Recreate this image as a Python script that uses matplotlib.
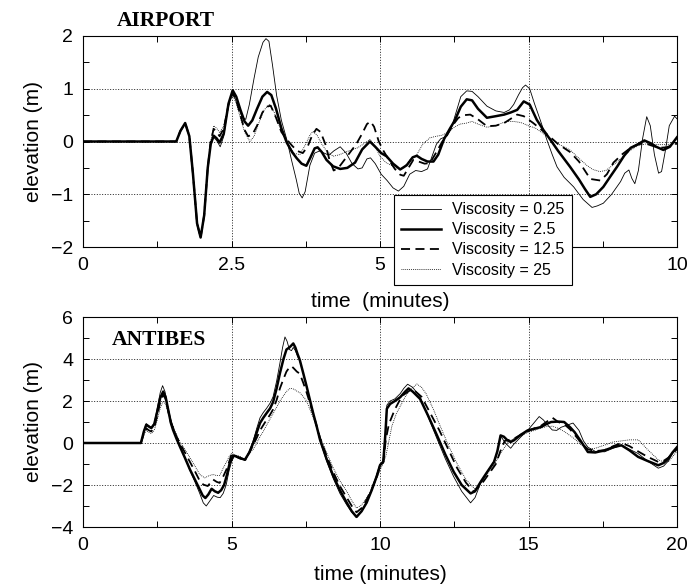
import matplotlib
matplotlib.use("Agg")
import matplotlib.pyplot as plt
from matplotlib.ticker import MultipleLocator

# ---------------- AIRPORT (top) ----------------
t_air_common = [0.0, 1.57, 1.64, 1.72, 1.79, 1.85, 1.92, 1.98, 2.04, 2.10]
y_air_common = [0.0, 0.0, 0.20, 0.35, 0.10, -0.60, -1.55, -1.82, -1.40, -0.50]

t_air_v025 = [2.15, 2.20, 2.25, 2.31, 2.37, 2.45, 2.52, 2.60, 2.68, 2.74, 2.80, 2.88, 2.95, 3.03, 3.08, 3.13,
              3.19, 3.26, 3.34, 3.43, 3.51, 3.59, 3.64, 3.69, 3.74, 3.82, 3.90, 3.98, 4.06, 4.14, 4.22, 4.33,
              4.43, 4.53, 4.63, 4.70, 4.78, 4.84, 4.92, 5.02, 5.12, 5.22, 5.31, 5.40, 5.50, 5.60, 5.70, 5.80,
              5.87, 5.95, 6.02, 6.12, 6.20, 6.28, 6.36, 6.46, 6.55, 6.65, 6.80, 6.95, 7.09, 7.18, 7.25, 7.33,
              7.40, 7.45, 7.52, 7.60, 7.70, 7.81, 7.90, 7.98, 8.10, 8.26, 8.42, 8.57, 8.66, 8.76, 8.90, 9.05,
              9.12, 9.19, 9.24, 9.29, 9.35, 9.42, 9.49, 9.55, 9.62, 9.69, 9.74, 9.80, 9.87, 9.96, 10.0]
y_air_v025 = [-0.05, 0.08, 0.02, -0.10, 0.10, 0.70, 0.93, 0.70, 0.45, 0.42, 0.70, 1.20, 1.60, 1.88, 1.95, 1.90,
              1.45, 0.87, 0.40, 0.04, -0.35, -0.72, -0.98, -1.07, -0.95, -0.45, -0.22, -0.18, -0.22, -0.26, -0.18, -0.10,
              -0.22, -0.42, -0.52, -0.50, -0.33, -0.31, -0.42, -0.62, -0.74, -0.88, -0.94, -0.85, -0.62, -0.55, -0.57, -0.52,
              -0.30, -0.05, 0.05, 0.10, 0.25, 0.55, 0.85, 0.96, 0.95, 0.85, 0.67, 0.58, 0.55, 0.60, 0.70, 0.88,
              1.02, 1.07, 1.00, 0.72, 0.40, 0.03, -0.25, -0.48, -0.68, -0.86, -1.10, -1.25, -1.22, -1.17, -1.00, -0.76,
              -0.60, -0.54, -0.70, -0.80, -0.55, 0.05, 0.47, 0.30, -0.25, -0.60, -0.57, -0.20, 0.30, 0.48, 0.43]

t_air_v25 = [2.15, 2.20, 2.25, 2.30, 2.37, 2.45, 2.52, 2.58, 2.65, 2.72, 2.78, 2.85, 2.93, 3.02, 3.10, 3.17,
             3.25, 3.34, 3.43, 3.52, 3.60, 3.68, 3.76, 3.83, 3.90, 3.95, 4.02, 4.10, 4.21, 4.33, 4.45, 4.58,
             4.70, 4.83, 4.92, 5.02, 5.11, 5.22, 5.34, 5.45, 5.55, 5.62, 5.70, 5.80, 5.90, 5.98, 6.08, 6.18,
             6.26, 6.36, 6.46, 6.55, 6.65, 6.80, 6.95, 7.09, 7.20, 7.31, 7.42, 7.52, 7.64, 7.75, 7.87, 8.00,
             8.20, 8.35, 8.45, 8.54, 8.64, 8.76, 8.88, 8.99, 9.11, 9.22, 9.33, 9.45, 9.55, 9.65, 9.77, 9.88, 10.0]
y_air_v25 = [-0.05, 0.11, 0.06, -0.02, 0.15, 0.72, 0.97, 0.85, 0.60, 0.38, 0.30, 0.40, 0.62, 0.85, 0.94, 0.88,
             0.62, 0.25, -0.02, -0.20, -0.32, -0.42, -0.46, -0.30, -0.13, -0.11, -0.20, -0.35, -0.47, -0.52, -0.50, -0.40,
             -0.15, 0.00, -0.10, -0.22, -0.28, -0.42, -0.53, -0.45, -0.30, -0.27, -0.33, -0.38, -0.38, -0.25, 0.05, 0.25,
             0.40, 0.66, 0.80, 0.78, 0.62, 0.45, 0.48, 0.51, 0.55, 0.60, 0.76, 0.70, 0.41, 0.22, 0.03, -0.18,
             -0.48, -0.72, -0.90, -1.05, -1.00, -0.86, -0.66, -0.48, -0.27, -0.12, -0.06, 0.02, -0.03, -0.10, -0.16, -0.10, 0.08]

t_air_v125 = [2.15, 2.20, 2.25, 2.30, 2.37, 2.45, 2.52, 2.58, 2.65, 2.72, 2.78, 2.85, 2.93, 3.02, 3.10, 3.16,
              3.25, 3.34, 3.43, 3.52, 3.61, 3.70, 3.78, 3.86, 3.93, 4.00, 4.08, 4.15, 4.22, 4.30, 4.40, 4.50,
              4.60, 4.70, 4.78, 4.84, 4.90, 4.98, 5.06, 5.15, 5.25, 5.34, 5.40, 5.48, 5.56, 5.65, 5.75, 5.84,
              5.95, 6.05, 6.12, 6.22, 6.32, 6.42, 6.52, 6.65, 6.80, 6.95, 7.09, 7.20, 7.31, 7.42, 7.58, 7.72,
              7.87, 8.00, 8.20, 8.35, 8.54, 8.71, 8.82, 8.93, 9.08, 9.22, 9.33, 9.45, 9.58, 9.70, 9.82, 9.92, 10.0]
y_air_v125 = [0.00, 0.24, 0.18, 0.10, 0.25, 0.70, 0.92, 0.78, 0.50, 0.22, 0.10, 0.13, 0.30, 0.55, 0.66, 0.68,
              0.45, 0.18, 0.04, -0.08, -0.18, -0.22, -0.10, 0.12, 0.24, 0.18, -0.05, -0.35, -0.55, -0.50, -0.35, -0.20,
              -0.05, 0.15, 0.33, 0.38, 0.28, 0.00, -0.18, -0.35, -0.52, -0.63, -0.65, -0.50, -0.35, -0.38, -0.42, -0.41,
              -0.20, 0.00, 0.10, 0.30, 0.45, 0.50, 0.51, 0.42, 0.29, 0.30, 0.35, 0.43, 0.51, 0.48, 0.35, 0.22,
              0.08, -0.05, -0.20, -0.38, -0.71, -0.74, -0.62, -0.40, -0.24, -0.12, -0.06, -0.03, -0.08, -0.12, -0.11, -0.07, -0.04]

t_air_v250 = [2.15, 2.20, 2.25, 2.30, 2.37, 2.45, 2.52, 2.58, 2.65, 2.72, 2.81, 2.88, 2.96, 3.05, 3.14, 3.22,
              3.32, 3.43, 3.55, 3.65, 3.75, 3.82, 3.87, 3.94, 4.02, 4.10, 4.21, 4.32, 4.42, 4.52, 4.62, 4.72,
              4.83, 4.92, 5.00, 5.10, 5.22, 5.32, 5.40, 5.50, 5.62, 5.72, 5.84, 5.95, 6.05, 6.15, 6.25, 6.35,
              6.46, 6.55, 6.65, 6.80, 6.95, 7.05, 7.15, 7.25, 7.37, 7.50, 7.62, 7.75, 7.88, 8.00, 8.10, 8.21,
              8.35, 8.48, 8.58, 8.70, 8.80, 8.92, 9.05, 9.20, 9.34, 9.50, 9.67, 9.80, 9.90, 10.0]
y_air_v250 = [0.00, 0.30, 0.25, 0.17, 0.30, 0.68, 0.88, 0.72, 0.45, 0.18, 0.00, 0.10, 0.35, 0.60, 0.70, 0.55,
              0.25, 0.00, -0.22, -0.25, -0.05, 0.12, 0.19, 0.12, -0.05, -0.18, -0.28, -0.25, -0.20, -0.16, -0.12, -0.05,
              0.04, -0.10, -0.28, -0.40, -0.47, -0.52, -0.50, -0.35, -0.25, -0.05, 0.07, 0.10, 0.12, 0.18, 0.27, 0.33,
              0.35, 0.38, 0.33, 0.27, 0.30, 0.35, 0.38, 0.38, 0.36, 0.30, 0.25, 0.15, 0.05, -0.05, -0.10, -0.17,
              -0.32, -0.45, -0.53, -0.57, -0.55, -0.45, -0.33, -0.18, -0.08, -0.04, -0.06, -0.06, -0.05, -0.04]

# ---------------- ANTIBES (bottom) ----------------
t_ant_common = [0.0, 1.95]
y_ant_common = [0.0, 0.0]

t_ant_v025 = [2.05, 2.13, 2.22, 2.30, 2.40, 2.50, 2.60, 2.68, 2.76, 2.86, 2.96, 3.03, 3.15, 3.26, 3.43, 3.60,
              3.77, 3.93, 4.05, 4.15, 4.25, 4.40, 4.52, 4.62, 4.72, 4.82, 4.92, 5.00, 5.10, 5.20, 5.32, 5.48,
              5.60, 5.73, 5.85, 5.96, 6.07, 6.18, 6.30, 6.40, 6.52, 6.63, 6.72, 6.80, 6.87, 6.95, 7.02, 7.08,
              7.15, 7.22, 7.30, 7.42, 7.53, 7.64, 7.75, 7.87, 7.98, 8.20, 8.43, 8.65, 8.88, 9.05, 9.21, 9.38,
              9.55, 9.72, 9.89, 10.0, 10.11, 10.18, 10.23, 10.34, 10.50, 10.68, 10.80, 10.93, 11.10, 11.35, 11.62, 11.92,
              12.20, 12.48, 12.75, 13.05, 13.20, 13.39, 13.60, 13.84, 13.95, 14.06, 14.17, 14.29, 14.40, 14.51, 14.75, 14.97,
              15.15, 15.36, 15.50, 15.65, 15.80, 15.95, 16.10, 16.30, 16.50, 16.70, 16.85, 17.00, 17.25, 17.56, 17.85, 18.13,
              18.40, 18.69, 19.00, 19.37, 19.55, 19.71, 19.85, 20.0]
y_ant_v025 = [0.60, 0.92, 0.82, 0.75, 0.95, 1.65, 2.40, 2.73, 2.45, 1.70, 1.10, 0.80, 0.30, -0.10, -0.70, -1.30,
              -1.85, -2.40, -2.85, -3.00, -2.80, -2.50, -2.58, -2.60, -2.40, -2.00, -1.30, -0.90, -0.60, -0.68, -0.75, -0.82,
              -0.40, 0.10, 0.70, 1.20, 1.45, 1.65, 1.90, 2.20, 2.95, 3.80, 4.55, 5.05, 4.85, 4.45, 4.40, 4.55,
              4.40, 4.15, 3.90, 3.30, 2.70, 2.05, 1.40, 0.75, 0.10, -0.85, -1.70, -2.40, -2.95, -3.30, -3.55, -3.25,
              -2.80, -2.20, -1.50, -1.00, -0.85, 0.50, 1.80, 2.00, 2.10, 2.35, 2.60, 2.80, 2.65, 2.20, 1.25, 0.20,
              -0.75, -1.60, -2.30, -2.85, -2.60, -1.90, -1.40, -0.85, -0.40, 0.35, 0.10, -0.10, -0.25, -0.05, 0.30, 0.60,
              0.90, 1.26, 1.10, 0.85, 0.62, 0.60, 0.75, 0.85, 0.95, 0.60, 0.10, -0.20, -0.40, -0.42, -0.25, -0.10,
              -0.30, -0.50, -0.85, -1.20, -1.10, -0.85, -0.50, -0.20]

t_ant_v25 = [2.05, 2.13, 2.22, 2.30, 2.40, 2.50, 2.60, 2.70, 2.78, 2.88, 2.96, 3.03, 3.15, 3.26, 3.43, 3.60,
             3.77, 3.93, 4.03, 4.12, 4.22, 4.33, 4.44, 4.55, 4.65, 4.75, 4.85, 4.94, 5.06, 5.18, 5.30, 5.45,
             5.60, 5.73, 5.85, 5.96, 6.07, 6.18, 6.30, 6.40, 6.52, 6.63, 6.75, 6.85, 6.95, 7.02, 7.08, 7.15,
             7.22, 7.30, 7.42, 7.53, 7.64, 7.75, 7.87, 7.98, 8.20, 8.43, 8.65, 8.88, 9.05, 9.21, 9.38, 9.55,
             9.72, 9.89, 10.0, 10.11, 10.18, 10.23, 10.34, 10.50, 10.68, 10.85, 10.96, 11.10, 11.35, 11.62, 11.92, 12.20,
             12.48, 12.75, 13.05, 13.20, 13.39, 13.60, 13.84, 13.95, 14.06, 14.17, 14.29, 14.40, 14.51, 14.75, 14.97, 15.20,
             15.42, 15.60, 15.76, 16.00, 16.20, 16.40, 16.55, 16.78, 17.00, 17.25, 17.56, 17.85, 18.13, 18.40, 18.69, 19.00,
             19.37, 19.55, 19.71, 19.85, 20.0]
y_ant_v25 = [0.55, 0.87, 0.78, 0.71, 0.90, 1.50, 2.15, 2.45, 2.20, 1.50, 0.95, 0.63, 0.20, -0.16, -0.70, -1.26,
             -1.75, -2.21, -2.50, -2.62, -2.45, -2.18, -2.30, -2.37, -2.25, -2.00, -1.50, -0.95, -0.60, -0.65, -0.72, -0.80,
             -0.45, 0.00, 0.50, 0.95, 1.20, 1.42, 1.65, 1.95, 2.60, 3.32, 4.00, 4.45, 4.55, 4.65, 4.74, 4.55,
             4.25, 3.95, 3.30, 2.69, 2.05, 1.42, 0.78, 0.16, -0.75, -1.58, -2.25, -2.84, -3.25, -3.52, -3.25, -2.84,
             -2.25, -1.58, -1.06, -0.90, 0.40, 1.63, 1.86, 2.00, 2.18, 2.45, 2.60, 2.45, 2.10, 1.30, 0.36, -0.55,
             -1.37, -2.00, -2.40, -2.30, -1.85, -1.40, -0.90, -0.40, 0.36, 0.30, 0.13, 0.05, 0.13, 0.40, 0.60, 0.68,
             0.76, 0.90, 1.00, 1.02, 1.00, 0.75, 0.52, 0.05, -0.43, -0.45, -0.35, -0.20, -0.11, -0.35, -0.66, -0.85,
             -1.06, -0.95, -0.74, -0.45, -0.20]

t_ant_v125 = [2.05, 2.13, 2.22, 2.30, 2.40, 2.50, 2.60, 2.70, 2.78, 2.88, 2.96, 3.03, 3.15, 3.26, 3.43, 3.60,
              3.77, 3.93, 4.05, 4.20, 4.38, 4.50, 4.60, 4.72, 4.83, 4.92, 5.00, 5.15, 5.30, 5.45, 5.60, 5.73,
              5.85, 5.96, 6.07, 6.18, 6.30, 6.40, 6.52, 6.63, 6.75, 6.85, 6.95, 7.02, 7.10, 7.20, 7.30, 7.42,
              7.53, 7.64, 7.75, 7.87, 7.98, 8.20, 8.43, 8.65, 8.88, 9.05, 9.21, 9.38, 9.55, 9.72, 9.89, 10.0,
              10.11, 10.20, 10.30, 10.50, 10.65, 10.80, 11.05, 11.20, 11.40, 11.70, 12.00, 12.30, 12.60, 12.90, 13.16, 13.35,
              13.50, 13.70, 13.90, 14.05, 14.20, 14.35, 14.50, 14.75, 14.97, 15.20, 15.40, 15.60, 15.81, 16.00, 16.20, 16.40,
              16.55, 16.78, 17.00, 17.25, 17.56, 17.85, 18.13, 18.40, 18.69, 19.00, 19.37, 19.55, 19.71, 19.85, 20.0]
y_ant_v125 = [0.45, 0.70, 0.60, 0.55, 0.75, 1.30, 1.95, 2.30, 2.10, 1.45, 0.95, 0.70, 0.30, 0.00, -0.45, -0.90,
              -1.35, -1.80, -1.98, -2.05, -1.74, -1.85, -1.90, -1.60, -1.26, -0.90, -0.55, -0.65, -0.75, -0.78, -0.45, -0.10,
              0.25, 0.60, 0.85, 1.10, 1.35, 1.60, 2.05, 2.60, 3.05, 3.40, 3.60, 3.66, 3.55, 3.40, 3.30, 2.85,
              2.40, 1.90, 1.40, 0.80, 0.25, -0.60, -1.40, -2.05, -2.60, -3.00, -3.30, -3.10, -2.70, -2.20, -1.60, -1.10,
              -0.90, 0.20, 0.90, 1.60, 2.00, 2.30, 2.55, 2.45, 2.20, 1.40, 0.60, -0.30, -1.20, -1.90, -2.32, -2.05,
              -1.80, -1.40, -1.00, -0.40, 0.10, 0.15, 0.20, 0.40, 0.55, 0.70, 0.80, 1.00, 1.20, 1.00, 0.90, 0.65,
              0.40, 0.00, -0.30, -0.38, -0.35, -0.15, 0.00, -0.15, -0.40, -0.65, -0.90, -0.85, -0.70, -0.50, -0.30]

t_ant_v250 = [2.05, 2.13, 2.22, 2.30, 2.40, 2.50, 2.60, 2.70, 2.78, 2.88, 2.96, 3.03, 3.15, 3.26, 3.43, 3.60,
              3.77, 3.93, 4.10, 4.25, 4.38, 4.50, 4.60, 4.72, 4.83, 4.92, 5.00, 5.15, 5.30, 5.45, 5.60, 5.73,
              5.85, 5.96, 6.07, 6.18, 6.30, 6.40, 6.52, 6.63, 6.75, 6.85, 6.95, 7.02, 7.12, 7.22, 7.30, 7.42,
              7.53, 7.64, 7.75, 7.87, 7.98, 8.20, 8.43, 8.65, 8.88, 9.05, 9.21, 9.38, 9.55, 9.72, 9.89, 10.0,
              10.10, 10.20, 10.30, 10.40, 10.55, 10.70, 10.85, 11.00, 11.24, 11.40, 11.55, 11.80, 12.00, 12.30, 12.60, 12.90,
              13.20, 13.35, 13.50, 13.70, 13.90, 14.05, 14.20, 14.35, 14.50, 14.75, 14.97, 15.20, 15.40, 15.60, 15.80, 16.00,
              16.20, 16.40, 16.55, 16.78, 17.00, 17.25, 17.56, 17.85, 18.13, 18.40, 18.70, 19.00, 19.37, 19.55, 19.71, 19.85, 20.0]
y_ant_v250 = [0.40, 0.60, 0.50, 0.45, 0.60, 1.10, 1.65, 2.00, 1.85, 1.40, 1.00, 0.80, 0.40, 0.05, -0.30, -0.70,
              -1.10, -1.50, -1.66, -1.55, -1.50, -1.55, -1.55, -1.20, -0.90, -0.65, -0.50, -0.58, -0.65, -0.80, -0.50, -0.30,
              0.00, 0.30, 0.55, 0.85, 1.15, 1.40, 1.70, 2.00, 2.25, 2.45, 2.58, 2.60, 2.55, 2.45, 2.40, 2.20,
              2.00, 1.60, 1.20, 0.75, 0.30, -0.45, -1.20, -1.80, -2.30, -2.75, -3.10, -2.95, -2.60, -2.20, -1.70, -1.30,
              -1.00, -0.60, 0.10, 0.80, 1.40, 1.80, 2.20, 2.50, 2.81, 2.65, 2.35, 1.60, 0.90, -0.10, -1.00, -1.75,
              -2.20, -2.00, -1.70, -1.30, -0.90, -0.50, -0.20, 0.10, 0.20, 0.35, 0.50, 0.60, 0.70, 0.78, 0.80, 0.70,
              0.55, 0.35, 0.20, -0.10, -0.30, -0.25, -0.10, 0.05, 0.10, 0.15, 0.15, -0.30, -0.80, -0.90, -0.90, -0.65, -0.40]

labels = ["Viscosity = 0.25", "Viscosity = 2.5", "Viscosity = 12.5", "Viscosity = 25"]
air_xticks = [0, 2.5, 5, 7.5, 10]
air_xticklabels = ["0", "2.5", "5", "", "10"]   # 7.5 is hidden behind the legend in the original

styles = [dict(color="black", lw=0.6, ls="-"),
          dict(color="black", lw=1.8, ls="-"),
          dict(color="black", lw=1.3, ls=(0, (5, 3))),
          dict(color="black", lw=0.6, ls=(0, (1, 1.3)))]

plt.rcParams["font.family"] = ["Liberation Sans", "DejaVu Sans"]

fig = plt.figure(figsize=(6.91, 5.88), dpi=100)
ax1 = fig.add_axes([83 / 691, 1 - 247 / 588, 594 / 691, 211 / 588])
ax2 = fig.add_axes([83 / 691, 1 - 527 / 588, 594 / 691, 210 / 588])

air = [(t_air_v025, y_air_v025), (t_air_v25, y_air_v25), (t_air_v125, y_air_v125), (t_air_v250, y_air_v250)]
ant = [(t_ant_v025, y_ant_v025), (t_ant_v25, y_ant_v25), (t_ant_v125, y_ant_v125), (t_ant_v250, y_ant_v250)]

handles = []
for (tt, yy), st, lab in zip(air, styles, labels):
    h, = ax1.plot(t_air_common + tt, y_air_common + yy, label=lab, **st)
    handles.append(h)
for (tt, yy), st in zip(ant, styles):
    ax2.plot(t_ant_common + tt, y_ant_common + yy, **st)


def style_axes(ax, xlim, ylim, xmaj, xmin, ymaj, ymin):
    ax.set_xlim(*xlim)
    ax.set_ylim(*ylim)
    ax.xaxis.set_major_locator(MultipleLocator(xmaj))
    ax.xaxis.set_minor_locator(MultipleLocator(xmin))
    ax.yaxis.set_major_locator(MultipleLocator(ymaj))
    ax.yaxis.set_minor_locator(MultipleLocator(ymin))
    ax.tick_params(which="both", direction="in", top=True, right=True, length=4, width=0.7,
                   labelsize=14, pad=7)
    ax.grid(True, which="major", ls=(0, (1.2, 2)), color="black", lw=0.6)
    for s in ax.spines.values():
        s.set_linewidth(0.8)
    ax.set_ylabel("elevation (m)", fontsize=15, labelpad=6)


style_axes(ax1, (0, 10), (-2, 2), 2.5, 1.25, 1, 0.5)
ax1.set_xticks(air_xticks)
ax1.set_xticklabels(air_xticklabels)
ax1.set_yticks([-2, -1, 0, 1, 2])
ax1.set_xlabel("time  (minutes)", fontsize=15, labelpad=13)

style_axes(ax2, (0, 20), (-4, 6), 5, 2.5, 2, 1)
ax2.set_xlabel("time (minutes)", fontsize=15, labelpad=8)

fig.text(166 / 691, 1 - 26 / 588, "AIRPORT", family=["Liberation Serif", "DejaVu Serif"],
         weight="bold", fontsize=15.5, ha="center", va="baseline")
fig.text(159 / 691, 1 - 345 / 588, "ANTIBES", family=["Liberation Serif", "DejaVu Serif"],
         weight="bold", fontsize=15.5, ha="center", va="baseline")

leg = ax1.legend(handles=handles, loc="upper left", bbox_to_anchor=(394 / 691, 1 - 195 / 588),
                 bbox_transform=fig.transFigure, fontsize=11.5, frameon=True, fancybox=False,
                 framealpha=1, edgecolor="black", handlelength=2.5, handletextpad=0.7,
                 labelspacing=0.32, borderpad=0.45, borderaxespad=0)
leg.get_frame().set_linewidth(0.8)
leg.set_zorder(10)

fig.savefig("out.png", dpi=100)
